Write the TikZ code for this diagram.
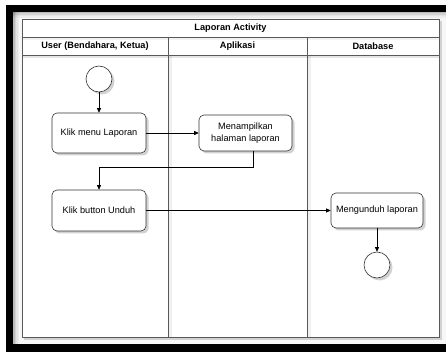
\documentclass[tikz,border=0pt]{standalone}
\usepackage{fontspec}
\setmainfont{Liberation Sans}
\usetikzlibrary{shadows,arrows.meta}
\begin{document}
\begin{tikzpicture}[x=1pt,y=-1pt,
  lane/.style={draw=black!65, line width=0.6pt},
  act/.style={draw=black!80, line width=0.6pt, fill=white, rounded corners=5pt, align=center,
    font=\fontsize{9.2}{11.5}\selectfont, inner sep=2pt,
    drop shadow={opacity=0.35, shadow xshift=2.5pt, shadow yshift=-2.5pt}},
  circ/.style={circle, draw=black!80, line width=0.6pt, fill=white, minimum size=26pt, inner sep=0pt,
    drop shadow={opacity=0.35, shadow xshift=2.5pt, shadow yshift=-2.5pt}},
  hdr/.style={font=\bfseries\fontsize{9.2}{11}\selectfont},
  arr/.style={draw=black, line width=0.6pt, -{Triangle[length=4.5pt,width=4pt]}}
]
\useasboundingbox (0,0) rectangle (446,352);
% screenshot frame
\fill[white] (0,0) rectangle (446,352);
\fill[black!3] (13,12) rectangle (446,344);
\foreach \i/\o in {0/0.25,1.5/0.15,3/0.08,4.5/0.04}{
  \fill[black,opacity=\o] (13,12+\i) rectangle (446,13.5+\i);
  \fill[black,opacity=\o] (13+\i,12) rectangle (14.5+\i,344);
}
\fill[black] (6,5) rectangle (446,12);
\fill[black] (6,5) rectangle (13,352);
\fill[black] (6,344) rectangle (446,352);
% diagram
\fill[black,opacity=0.15] (24,21) rectangle (442,340);
\fill[white] (22,19) rectangle (439,337);
\foreach \xx in {168,307}{\fill[black,opacity=0.06] (\xx,55) rectangle (\xx+4,337);}
\fill[black,opacity=0.1] (22,55) rectangle (439,58);
\fill[black,opacity=0.05] (22,37) rectangle (439,40);
\draw[lane] (22,19) rectangle (439,337);
\draw[lane] (22,37) -- (439,37);
\draw[lane] (22,55) -- (439,55);
\draw[lane] (168,37) -- (168,337);
\draw[lane] (307,37) -- (307,337);
\node[hdr] (title) at (230.5,28) {Laporan Activity};
\node[hdr] (h1) at (95,46) {User (Bendahara, Ketua)};
\node[hdr] (h2) at (237.5,46) {Aplikasi};
\node[hdr] (h3) at (373,46) {Database};
% nodes
\node[circ] (start) at (99,79) {};
\node[act, minimum width=94pt, minimum height=40pt] (km) at (99,133) {Klik menu Laporan};
\node[act, minimum width=93pt, minimum height=36pt] (mh) at (245.5,133) {Menampilkan\\halaman laporan};
\node[act, minimum width=94pt, minimum height=41pt] (kb) at (99,210.5) {Klik button Unduh};
\node[act, minimum width=92pt, minimum height=35pt] (mu) at (377,210.5) {Mengunduh laporan};
\node[circ] (end) at (377,265) {};
% connectors
\draw[arr] (start) -- (km);
\draw[arr] (km) -- (mh);
\draw[arr] ([xshift=7.5pt]mh.south) -- ++(0,16) -| (kb.north);
\draw[arr] (kb) -- (mu);
\draw[arr] (mu) -- (end);
\end{tikzpicture}
\end{document}
